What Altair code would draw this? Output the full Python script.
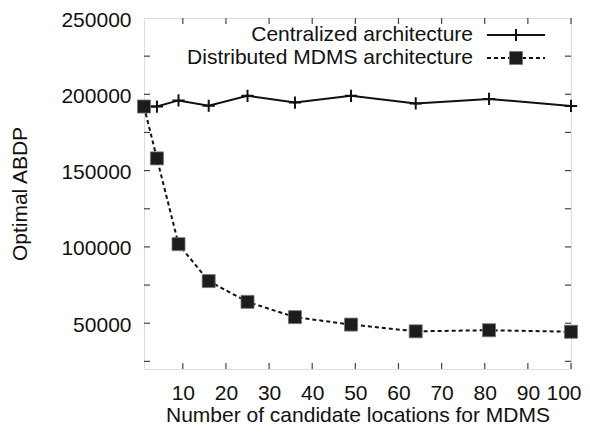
import altair as alt
import pandas as pd

# ---- data ----
x_vals = [1, 4, 9, 16, 25, 36, 49, 64, 81, 100]
centralized = [192000, 192000, 196000, 192500, 199000, 194600, 199000, 194000, 197000, 192400]
distributed = [192000, 158000, 101800, 77600, 64000, 54000, 49100, 44700, 45400, 44400]
series_names = ["Centralized architecture", "Distributed MDMS architecture"]
x_ticks = [10, 20, 30, 40, 50, 60, 70, 80, 90, 100]
y_ticks = [25000, 50000, 75000, 100000, 125000, 150000, 175000, 200000, 225000]
y_labels = [50000, 100000, 150000, 200000, 250000]
x_domain = [1, 100]
y_domain = [20000, 250000]

W, H = 427, 351
FONT = "Liberation Sans"
FS = 21
INK = "#111111"
BORDER = "#444444"
TICK = 6
PLUS = "M-1,0L1,0M0,-1L0,1"

df_c = pd.DataFrame({"x": x_vals, "y": centralized})
df_d = pd.DataFrame({"x": x_vals, "y": distributed})
df_xt = pd.DataFrame({"x": x_ticks})
df_yt = pd.DataFrame({"y": y_ticks})

xs = alt.Scale(domain=x_domain, nice=False, zero=False)
ys = alt.Scale(domain=y_domain, nice=False, zero=False)

x_axis = alt.Axis(values=x_ticks, title="Number of candidate locations for MDMS",
                  format="d", ticks=False, domain=False, grid=False, labelPadding=13,
                  titlePadding=1, labelFontSize=FS, titleFontSize=FS, labelFont=FONT,
                  titleFont=FONT, labelColor=INK, titleColor=INK, titleFontWeight="normal",
                  labelFlush=1, labelFlushOffset=10)
y_axis = alt.Axis(values=y_labels, title="Optimal ABDP", format="d", ticks=False,
                  domain=False, grid=False, labelPadding=13, titlePadding=30,
                  labelOffset=2, labelFontSize=FS, titleFontSize=FS, labelFont=FONT,
                  titleFont=FONT, labelColor=INK, titleColor=INK, titleFontWeight="normal",
                  labelFlush=False)

X = alt.X("x:Q", scale=xs, axis=x_axis)
Y = alt.Y("y:Q", scale=ys, axis=y_axis)

c_line = alt.Chart(df_c).mark_line(color=INK, strokeWidth=2).encode(x=X, y=Y)
c_pts = alt.Chart(df_c).mark_point(shape=PLUS, size=150, filled=False, stroke=INK,
                                   strokeWidth=2, opacity=1).encode(x=X, y=Y)
d_line = alt.Chart(df_d).mark_line(color=INK, strokeWidth=2, strokeDash=[4, 3]).encode(x=X, y=Y)
d_pts = alt.Chart(df_d).mark_point(shape="square", size=170, filled=True, fill="#1c1c1c",
                                   stroke="#777777", strokeWidth=0.8, opacity=1).encode(x=X, y=Y)

tick_b = alt.Chart(df_xt).mark_rule(color=BORDER, strokeWidth=1.2).encode(
    x=X, y=alt.value(H), y2=alt.value(H - TICK))
tick_t = alt.Chart(df_xt).mark_rule(color=BORDER, strokeWidth=1.2).encode(
    x=X, y=alt.value(0), y2=alt.value(TICK))
tick_l = alt.Chart(df_yt).mark_rule(color=BORDER, strokeWidth=1.2).encode(
    y=Y, x=alt.value(0), x2=alt.value(TICK))
tick_r = alt.Chart(df_yt).mark_rule(color=BORDER, strokeWidth=1.2).encode(
    y=Y, x=alt.value(W), x2=alt.value(W - TICK))

# ---- custom gnuplot-style key (top right) ----
L1, L2 = 17, 40
TX = 329
S0, S1, SM = 343, 401, 372
key_df1 = pd.DataFrame({"label": [series_names[0]]})
key_df2 = pd.DataFrame({"label": [series_names[1]]})
k_t1 = alt.Chart(key_df1).mark_text(align="right", baseline="middle", font=FONT, fontSize=FS,
                                    color=INK).encode(text="label:N", x=alt.value(TX), y=alt.value(L1))
k_t2 = alt.Chart(key_df2).mark_text(align="right", baseline="middle", font=FONT, fontSize=FS,
                                    color=INK).encode(text="label:N", x=alt.value(TX), y=alt.value(L2))
k_l1 = alt.Chart(key_df1).mark_rule(color=INK, strokeWidth=2).encode(
    x=alt.value(S0), x2=alt.value(S1), y=alt.value(L1))
k_l2 = alt.Chart(key_df2).mark_rule(color=INK, strokeWidth=2, strokeDash=[4, 3]).encode(
    x=alt.value(S0), x2=alt.value(S1), y=alt.value(L2))
k_p1 = alt.Chart(key_df1).mark_point(shape=PLUS, size=150, filled=False, stroke=INK,
                                     strokeWidth=2, opacity=1).encode(x=alt.value(SM), y=alt.value(L1))
k_p2 = alt.Chart(key_df2).mark_point(shape="square", size=170, filled=True, fill="#1c1c1c",
                                     stroke="#777777", strokeWidth=0.8, opacity=1).encode(
    x=alt.value(SM), y=alt.value(L2))

chart = alt.layer(
    c_line, d_line, c_pts, d_pts,
    tick_b, tick_t, tick_l, tick_r,
    k_t1, k_t2, k_l1, k_l2, k_p1, k_p2,
).properties(
    width=W, height=H,
    autosize=alt.AutoSizeParams(type="none"),
    padding={"left": 136, "top": 10, "right": 11, "bottom": 57},
).configure_view(stroke=BORDER, strokeWidth=1.5).configure(background="white")

chart.save("out.html", embed_options={"renderer": "svg", "actions": False})
